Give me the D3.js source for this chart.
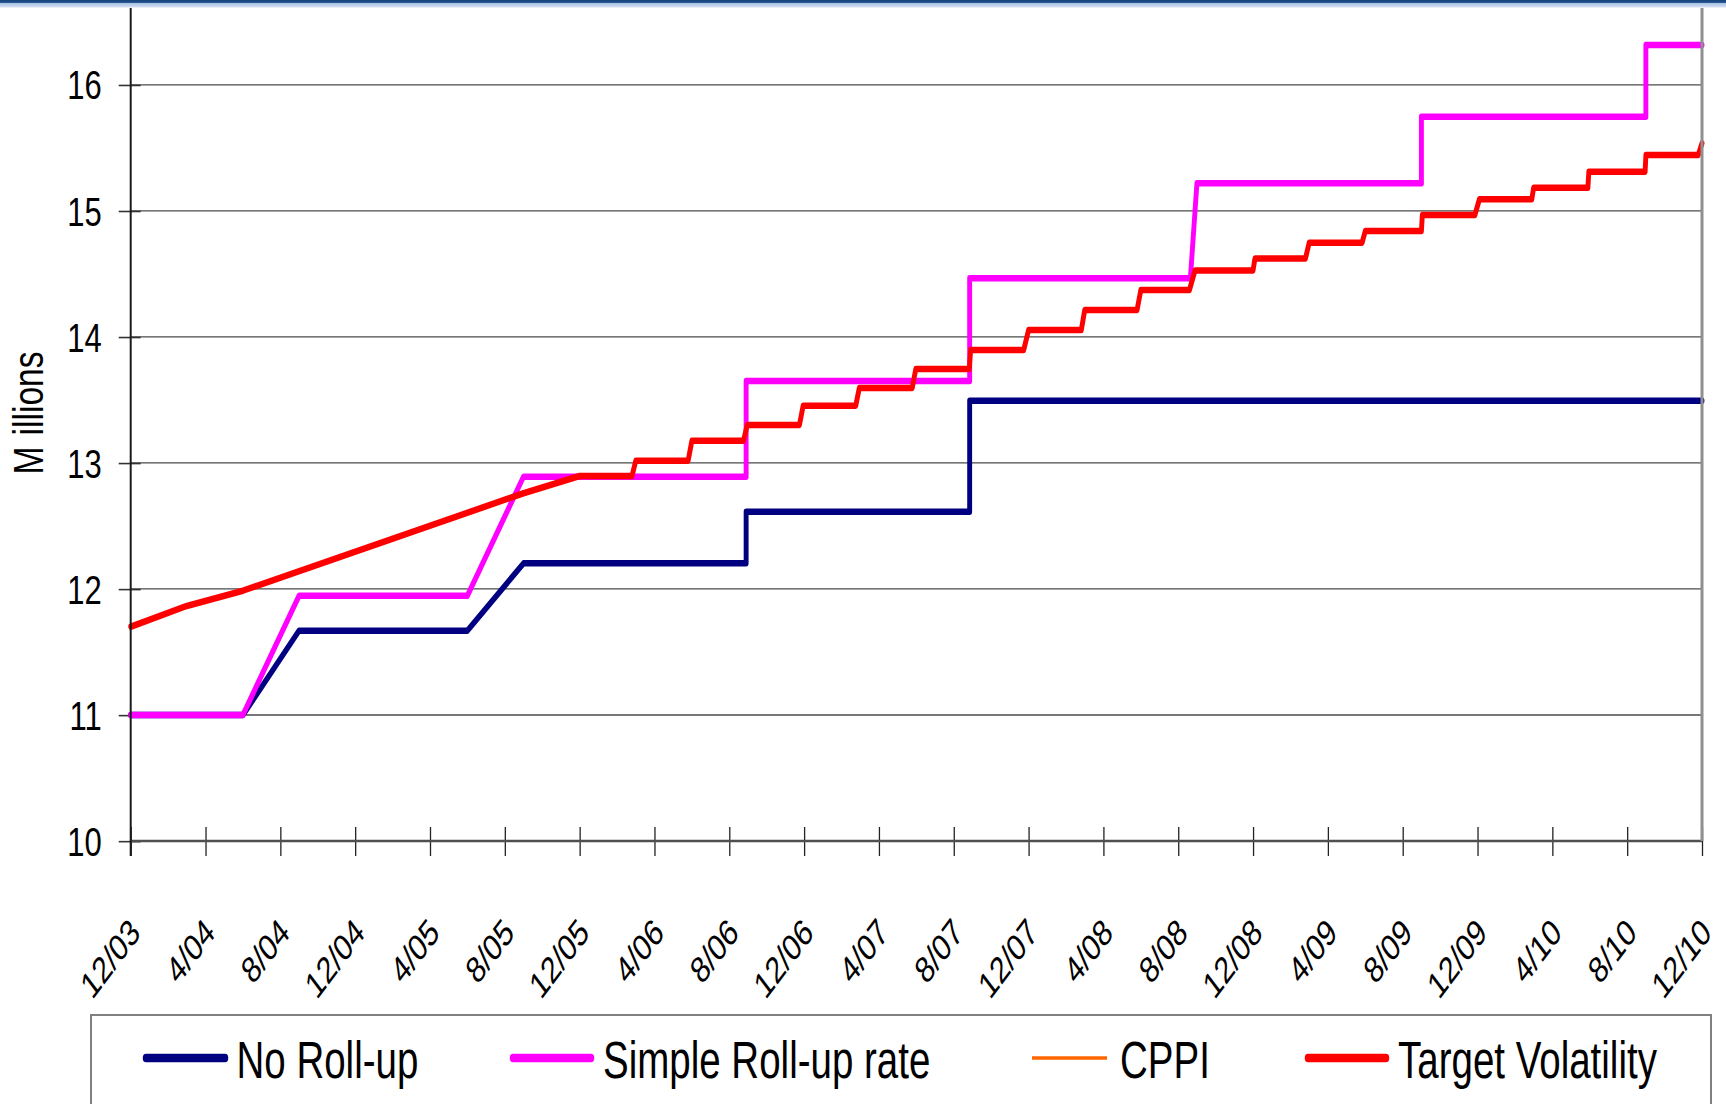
<!DOCTYPE html>
<html>
<head>
<meta charset="utf-8">
<script src="https://cdn.jsdelivr.net/npm/d3@7"></script>
<style>
  html, body { margin: 0; padding: 0; background: #ffffff; overflow: hidden; }
  text { font-family: "Liberation Sans", Arial, Helvetica, sans-serif; fill: #000; }
</style>
</head>
<body>
<svg id="chart" width="1726" height="1104"></svg>
<script>
// ---- data: month offsets counted from Dec 2003, values in millions ----
const tickMonths = [0, 4, 8, 12, 16, 20, 24, 28, 32, 36, 40, 44, 48, 52, 56, 60, 64, 68, 72, 76, 80, 84];
const tickLabels = ["12/03", "4/04", "8/04", "12/04", "4/05", "8/05", "12/05", "4/06", "8/06", "12/06", "4/07",
                    "8/07", "12/07", "4/08", "8/08", "12/08", "4/09", "8/09", "12/09", "4/10", "8/10", "12/10"];
const yTicks = [10, 11, 12, 13, 14, 15, 16];

const noRollUp = [
  [0, 11.0], [6, 11.0], [9, 11.669], [18, 11.669], [21, 12.203], [32.9, 12.203], [32.9, 12.613],
  [44.85, 12.613], [44.85, 13.494], [84, 13.494]
];
const simpleRollUp = [
  [0, 11.0], [6, 11.0], [9, 11.946], [18, 11.946], [21, 12.891], [32.9, 12.891], [32.9, 13.650],
  [44.85, 13.650], [44.85, 14.465], [56.65, 14.465], [57.0, 15.219], [69.0, 15.219], [69.0, 15.747],
  [81.0, 15.747], [81.0, 16.316], [84, 16.316]
];
const cppi = [];
const targetVol = [
  [0, 11.700], [3, 11.865], [6, 11.986], [21, 12.759], [24, 12.896], [26.8, 12.896], [27.0, 13.017],
  [29.8, 13.017], [30.0, 13.176], [32.76, 13.176], [32.96, 13.301], [35.75, 13.301], [35.95, 13.454],
  [38.76, 13.454], [38.95, 13.594], [41.78, 13.594], [41.97, 13.745], [44.83, 13.745], [44.9, 13.896],
  [47.74, 13.896], [48.0, 14.055], [50.82, 14.055], [51.0, 14.213], [53.8, 14.213], [54.0, 14.372],
  [56.6, 14.372], [56.9, 14.527], [60.0, 14.527], [60.1, 14.621], [62.8, 14.621], [63.0, 14.747],
  [65.83, 14.747], [66.0, 14.840], [69.0, 14.840], [69.05, 14.967], [71.86, 14.967], [72.1, 15.092],
  [74.9, 15.092], [75.0, 15.184], [77.9, 15.184], [77.95, 15.311], [80.96, 15.311], [81.0, 15.443],
  [83.8, 15.443], [84, 15.536]
];

const seriesNames = ["No Roll-up", "Simple Roll-up rate", "CPPI", "Target Volatility"];
const seriesValues = [noRollUp, simpleRollUp, cppi, targetVol];
const seriesColors = ["#000080", "#FF00FF", "#FF6600", "#FF0000"];

// ---- layout ----
const K = 1.33;                 // the drawing is stretched vertically by this factor
const W = 1726, H = 1104;
const plotLeft = 130.7, plotRight = 1702, plotTop = 8, plotBottom = 841, yTop16 = 84.8;

const svg = d3.select("#chart");

// header band across the very top
const grad = svg.append("defs").append("linearGradient")
  .attr("id", "band").attr("x1", 0).attr("y1", 0).attr("x2", 0).attr("y2", 1);
grad.append("stop").attr("offset", "0%").attr("stop-color", "#163f78");
grad.append("stop").attr("offset", "40%").attr("stop-color", "#2a5d9c");
grad.append("stop").attr("offset", "45%").attr("stop-color", "#aac3e3");
grad.append("stop").attr("offset", "100%").attr("stop-color", "#d6e2f2");
svg.append("rect").attr("x", 0).attr("y", 0).attr("width", W).attr("height", 7.5).attr("fill", "url(#band)");

// stretched drawing layer
const g = svg.append("g").attr("transform", `scale(1,${K})`);

const x = d3.scaleLinear().domain([0, 84]).range([plotLeft, plotRight]);
const y = d3.scaleLinear().domain([10, 16]).range([plotBottom / K, yTop16 / K]);

// horizontal gridlines
g.append("g").selectAll("line")
  .data(yTicks.filter(v => v > 10))
  .join("line")
  .attr("x1", plotLeft).attr("x2", plotRight)
  .attr("y1", d => y(d)).attr("y2", d => y(d))
  .attr("stroke", "#4a4a4a").attr("stroke-width", 1);

// y axis: labels and cross ticks
const yAxis = g.append("g").attr("transform", `translate(${plotLeft},0)`)
  .call(d3.axisLeft(y).tickValues(yTicks).tickSizeInner(12).tickSizeOuter(0).tickPadding(17).tickFormat(d3.format("d")));
yAxis.select(".domain").remove();
yAxis.selectAll(".tick line").attr("x2", -12).attr("x1", 10).attr("stroke", "#333").attr("stroke-width", 1.2);
yAxis.selectAll(".tick text")
  .attr("font-size", 31).attr("dy", "0.34em")
  .attr("font-family", "'Liberation Sans', Arial, sans-serif").attr("fill", "#000");

// x axis: cross ticks
const xAxis = g.append("g").attr("transform", `translate(0,${827 / K})`)
  .call(d3.axisBottom(x).tickValues(tickMonths).tickSizeInner((856 - 827) / K).tickSizeOuter(0).tickFormat(""));
xAxis.select(".domain").remove();
xAxis.selectAll(".tick line").attr("stroke", "#222").attr("stroke-width", 1.3);

// baseline of the value axis
g.append("line").attr("x1", plotLeft).attr("x2", plotRight)
  .attr("y1", y(10)).attr("y2", y(10))
  .attr("stroke", "#505050").attr("stroke-width", 2.4 / K);

// series lines
const line = d3.line().x(d => x(d[0])).y(d => y(d[1]));
g.append("g").selectAll("path")
  .data(seriesValues.map((v, i) => ({ v, i })).filter(s => s.v.length > 0))
  .join("path")
  .attr("d", s => line(s.v))
  .attr("fill", "none")
  .attr("stroke", s => seriesColors[s.i])
  .attr("stroke-width", 4.9)
  .attr("stroke-linejoin", "round")
  .attr("stroke-linecap", "round");

// vertical axis line and right border of the plot area
svg.append("line").attr("x1", plotLeft).attr("x2", plotLeft).attr("y1", plotTop).attr("y2", 856)
  .attr("stroke", "#1a1a1a").attr("stroke-width", 2);
svg.append("line").attr("x1", plotRight).attr("x2", plotRight).attr("y1", plotTop).attr("y2", plotBottom)
  .attr("stroke", "#8f8f8f").attr("stroke-width", 3);

// month labels, slanted inside the stretched layer
g.append("g").selectAll("text")
  .data(tickMonths)
  .join("text")
  .attr("transform", d => `translate(${x(d) + 11},${934.5 / K}) rotate(-45)`)
  .attr("text-anchor", "end")
  .attr("font-size", 28)
  .text((d, i) => tickLabels[i]);

// axis title
const title = svg.append("text")
  .attr("transform", "translate(43,413) rotate(-90) scale(0.8,1)")
  .attr("text-anchor", "middle")
  .attr("font-size", 42);
title.append("tspan").text("M");
title.append("tspan").attr("dx", 14).text("illions");

// legend
svg.append("rect").attr("x", 91).attr("y", 1015).attr("width", 1620).attr("height", 200)
  .attr("fill", "none").attr("stroke", "#808080").attr("stroke-width", 2);

const legendX = [146, 513, 1032, 1308];
const legendLen = [79, 78, 75, 78];
const legendTextX = [236.5, 603, 1120, 1398];
const legendStroke = [6.5, 6.5, 2.5, 6.5];
const lg = g.append("g");
lg.selectAll("line")
  .data(seriesNames)
  .join("line")
  .attr("x1", (d, i) => legendX[i]).attr("x2", (d, i) => legendX[i] + legendLen[i])
  .attr("y1", 1058 / K).attr("y2", 1058 / K)
  .attr("stroke", (d, i) => seriesColors[i])
  .attr("stroke-width", (d, i) => legendStroke[i])
  .attr("stroke-linecap", (d, i) => i === 2 ? "butt" : "round");
lg.selectAll("text")
  .data(seriesNames)
  .join("text")
  .attr("x", (d, i) => legendTextX[i])
  .attr("y", 1077.7 / K)
  .attr("font-size", 38.5)
  .text(d => d);
</script>
</body>
</html>
